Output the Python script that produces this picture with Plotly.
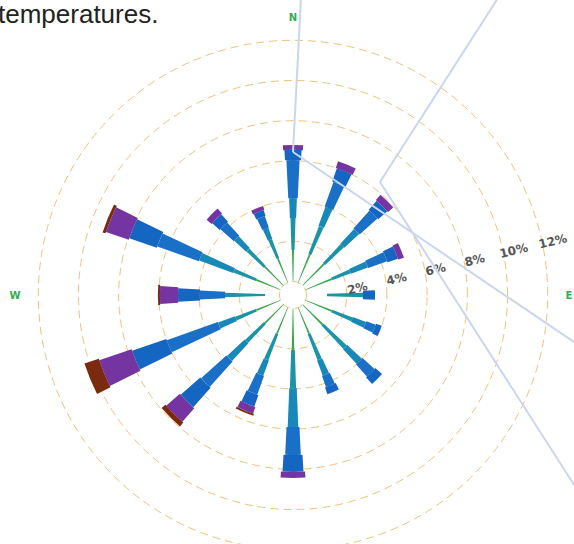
import plotly.graph_objects as go

# ---------------- data ----------------
directions = ["N", "NNE", "NE", "ENE", "E", "ESE", "SE", "SSE",
              "S", "SSW", "SW", "WSW", "W", "WNW", "NW", "NNW"]
angles = [0, 22.5, 45, 67.5, 90, 112.5, 135, 157.5,
          180, 202.5, 225, 247.5, 270, 292.5, 315, 337.5]

# frequency (%) of each speed class per direction (stacked outward)
class_1 = [1.57, 1.5, 1.5, 1.4, 1.02, 1.4, 1.4, 1.4, 2.06, 1.4, 1.3, 1.3, 0.72, 1.3, 1.3, 1.3]
class_2 = [1.59, 1.5, 1.3, 1.0, 1.79, 1.1, 1.6, 1.4, 1.9, 1.4, 1.3, 1.1, 1.99, 1.2, 1.2, 1.0]
class_3 = [0.99, 1.0, 1.0, 0.9, 0.0, 0.7, 1.0, 0.8, 1.94, 0.8, 1.2, 0.9, 0.0, 1.8, 0.8, 0.6]
class_4 = [1.89, 1.3, 1.2, 1.0, 0.0, 0.5, 0.8, 0.6, 1.39, 1.0, 1.7, 2.7, 1.25, 2.2, 0.9, 0.6]
class_5 = [0.51, 0.7, 0.6, 0.55, 0.6, 0.3, 0.45, 0.35, 0.84, 0.6, 1.3, 1.8, 1.09, 1.45, 0.5, 0.3]
class_6 = [0.24, 0.35, 0.35, 0.3, 0.0, 0.0, 0.0, 0.0, 0.3, 0.35, 0.9, 1.7, 0.9, 1.2, 0.33, 0.2]
class_7 = [0.0, 0.0, 0.0, 0.0, 0.0, 0.0, 0.0, 0.0, 0.0, 0.1, 0.25, 0.75, 0.1, 0.15, 0.0, 0.0]

class_names = ["Class 1", "Class 2", "Class 3", "Class 4", "Class 5", "Class 6", "Class 7"]
radial_ticks = [2, 4, 6, 8, 10, 12]
cardinal_angles = [0, 90, 180, 270]
cardinal_labels = ["N", "E", "S", "W"]

# ---------------- style ----------------
class_values = [class_1, class_2, class_3, class_4, class_5, class_6, class_7]
class_colors = ["#3aa64c", "#1a94a6", "#1888b8", "#1a70c6", "#1566c2", "#7434a2", "#7a2a0e"]
class_widths = [2.6, 3.8, 4.6, 5.6, 6.8, 7.8, 8.6]

W, H = 574, 590
cx, cy, R = 293, 295, 272

fig = go.Figure()
for i, (name, vals) in enumerate(zip(class_names, class_values)):
    color = class_colors[i]
    if i == 0:
        color = [("rgba(0,0,0,0)" if d in ("E", "W") else class_colors[0]) for d in directions]
    fig.add_trace(go.Barpolar(
        r=vals, theta=angles, name=name,
        width=class_widths[i],
        marker=dict(color=color, line=dict(width=0)),
        hoverinfo="r+theta",
    ))

def px(x):
    return x / W

def py(y):
    return 1 - y / H

line_style = dict(color="#c9d7ee", width=2)
leader_lines = [((301, -2), (293, 152)), ((293, 152), (580, 346)),
                ((498, -2), (380, 182)), ((380, 182), (578, 491))]
shapes = []
for (x0, y0), (x1, y1) in leader_lines:
    shapes.append(dict(type="line", xref="paper", yref="paper",
                       x0=px(x0), y0=py(y0), x1=px(x1), y1=py(y1),
                       line=line_style, layer="above"))

NB = "\u00a0" * 5
fig.update_layout(
    width=W, height=H,
    margin=dict(l=0, r=0, t=0, b=0),
    paper_bgcolor="white",
    showlegend=False,
    polar=dict(
        domain=dict(x=[(cx - R) / W, (cx + R) / W], y=[1 - (cy + R) / H, 1 - (cy - R) / H]),
        bgcolor="white",
        hole=0.035,
        barmode="stack",
        radialaxis=dict(
            range=[-0.2, 12.86],
            tickvals=[0] + radial_ticks,
            ticktext=[""] + [f"{NB}{t}%" for t in radial_ticks],
            angle=13.5,
            side="clockwise",
            tickangle=0,
            showline=False,
            ticks="",
            showgrid=True,
            gridcolor="#f0c27e",
            gridwidth=1,
            griddash="8px,5px",
            tickfont=dict(family="DejaVu Sans", size=12, color="#555555", weight="bold"),
        ),
        angularaxis=dict(
            rotation=90,
            direction="clockwise",
            tickmode="array",
            tickvals=cardinal_angles,
            ticktext=cardinal_labels,
            showgrid=False,
            showline=False,
            ticks="",
            tickfont=dict(family="DejaVu Sans", size=10, color="#30b050", weight="bold"),
        ),
    ),
    shapes=shapes,
    annotations=[dict(
        text="temperatures.", xref="paper", yref="paper",
        x=px(-4), y=py(-3), xanchor="left", yanchor="top",
        showarrow=False,
        font=dict(family="Liberation Sans", size=26, color="#222222"),
    )],
)

fig.write_html(
    "out.html",
    config={"displayModeBar": False},
    post_script="document.body.style.margin='0';document.body.style.overflow='hidden';",
)
